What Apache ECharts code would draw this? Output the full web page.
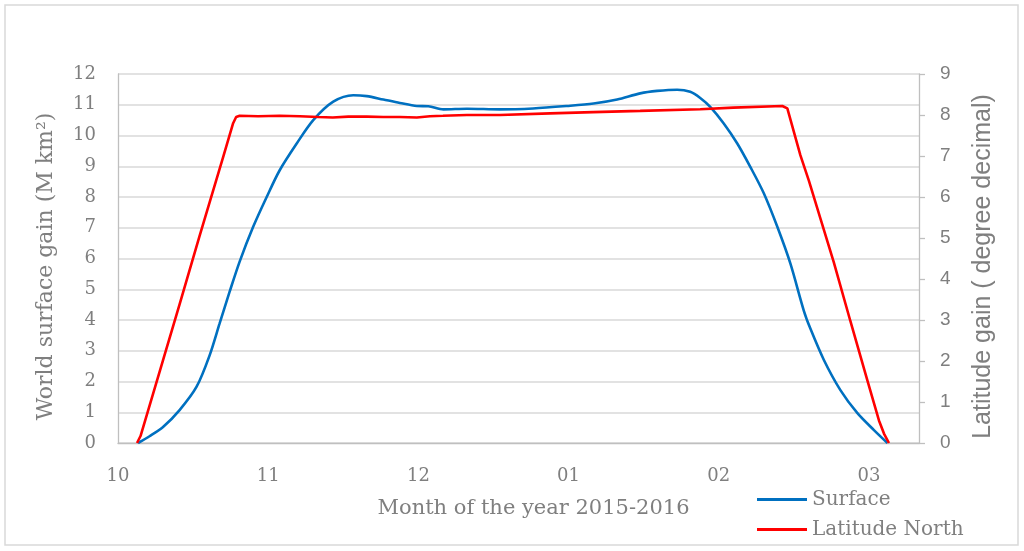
<!DOCTYPE html>
<html>
<head>
<meta charset="utf-8">
<script src="https://cdn.jsdelivr.net/npm/echarts@6/dist/echarts.min.js"></script>
<style>
html,body{margin:0;padding:0;background:#fff;}
#chart{width:1024px;height:551px;}
</style>
</head>
<body>
<div id="chart"></div>
<script>
// x values: days counted from the "10" month label (30 days per month label)
const monthLabels = ['10', '11', '12', '01', '02', '03'];
const monthTickDays = [0, 30, 60, 90, 120, 150];

const surfaceDays = [4.0, 6.3, 9.0, 12.3, 15.7, 18.3, 20.3, 22.3, 24.3, 27.0, 29.7, 32.3, 35.7, 39.0, 43.0, 47.0, 49.7, 53.0, 56.3, 59.7, 62.0, 65.0, 69.7, 76.3, 82.9, 89.7, 95.0, 99.7, 104.3, 107.7, 111.7, 114.3, 116.3, 118.3, 121.0, 123.7, 126.3, 129.0, 131.7, 134.3, 137.0, 138.3, 141.0, 144.3, 147.7, 151.0, 153.7];
const surfaceValues = [0, 0.22, 0.52, 1.07, 1.83, 2.85, 3.89, 4.92, 5.9, 7.03, 8.0, 8.87, 9.74, 10.5, 11.1, 11.31, 11.28, 11.17, 11.06, 10.96, 10.95, 10.85, 10.87, 10.85, 10.88, 10.96, 11.04, 11.17, 11.37, 11.45, 11.49, 11.42, 11.22, 10.93, 10.39, 9.74, 8.98, 8.12, 7.03, 5.84, 4.3, 3.72, 2.7, 1.72, 0.97, 0.42, 0];

const latitudeDays = [3.8, 4.5, 9.0, 12.3, 16.3, 21.0, 23.0, 23.6, 24.3, 28.0, 32.3, 36.3, 40.0, 42.9, 46.0, 49.7, 53.0, 56.3, 59.7, 62.3, 64.9, 69.7, 76.3, 86.3, 94.9, 104.3, 116.3, 122.9, 132.7, 133.7, 136.3, 138.0, 140.3, 143.0, 146.3, 149.7, 152.0, 153.0, 154.0];
const latitudeValues = [0, 0.17, 2.02, 3.38, 5.05, 6.97, 7.8, 7.95, 7.98, 7.97, 7.98, 7.97, 7.95, 7.94, 7.96, 7.96, 7.95, 7.95, 7.94, 7.97, 7.98, 8.0, 8.0, 8.04, 8.07, 8.1, 8.14, 8.18, 8.22, 8.16, 7.02, 6.4, 5.48, 4.4, 2.97, 1.52, 0.55, 0.23, 0];

const leftTitle = 'World surface gain (M km²)';
const rightTitle = 'Latitude gain ( degree decimal)';
const xTitle = 'Month of the year 2015-2016';

const zip = (xs, ys) => xs.map((x, i) => [x, ys[i]]);

const serif = '"DejaVu Serif", "Liberation Serif", serif';
const sans = '"Liberation Sans", "Open Sans", sans-serif';
const gray = '#7f7f7f';

const chart = echarts.init(document.getElementById('chart'), null, {renderer: 'canvas'});
chart.setOption({
  backgroundColor: '#ffffff',
  animation: false,
  graphic: [{
    type: 'rect',
    shape: {x: 5, y: 5, width: 1013, height: 540},
    style: {fill: 'none', stroke: '#d9d9d9', lineWidth: 1.5},
    silent: true
  }],
  grid: {left: 118, right: 105, top: 74, bottom: 108, containLabel: false},
  legend: {
    orient: 'vertical',
    left: 752,
    top: 484,
    icon: 'rect',
    itemWidth: 50,
    itemHeight: 3,
    itemGap: 9,
    textStyle: {fontFamily: serif, fontSize: 20, color: gray, lineHeight: 21},
    data: ['Surface', 'Latitude North']
  },
  xAxis: {
    type: 'value',
    min: 0,
    max: 160,
    interval: 30,
    name: xTitle,
    nameLocation: 'middle',
    nameGap: 55,
    nameTextStyle: {fontFamily: serif, fontSize: 21, color: gray, padding: [0, 0, 0, 30]},
    axisLine: {show: true, lineStyle: {color: '#bfbfbf', width: 1.3}},
    axisTick: {show: false},
    splitLine: {show: false},
    axisLabel: {
      margin: 24,
      fontFamily: serif,
      fontSize: 18,
      color: gray,
      showMaxLabel: false,
      formatter: function (v) {
        const i = monthTickDays.indexOf(v);
        return i >= 0 ? monthLabels[i] : '';
      }
    }
  },
  yAxis: [{
    type: 'value',
    min: 0,
    max: 12,
    interval: 1,
    position: 'left',
    name: leftTitle,
    nameLocation: 'middle',
    nameRotate: 90,
    nameGap: 61,
    nameTextStyle: {fontFamily: serif, fontSize: 22, color: gray, padding: [0, 16, 0, 0]},
    axisLine: {show: true, lineStyle: {color: '#bfbfbf', width: 1.3}},
    axisTick: {show: false},
    splitLine: {show: true, lineStyle: {color: '#d9d9d9', width: 1.5}},
    axisLabel: {margin: 22, fontFamily: serif, fontSize: 18, color: gray}
  }, {
    type: 'value',
    min: 0,
    max: 9,
    interval: 1,
    position: 'right',
    name: rightTitle,
    nameLocation: 'middle',
    nameRotate: 90,
    nameGap: 52,
    nameTextStyle: {fontFamily: sans, fontSize: 25, color: gray, padding: [0, 16, 0, 0]},
    axisLine: {show: true, lineStyle: {color: '#bfbfbf', width: 1.3}},
    axisTick: {show: true, inside: false, length: 6, lineStyle: {color: '#bfbfbf', width: 1.3}},
    splitLine: {show: false},
    axisLabel: {margin: 21, fontFamily: sans, fontSize: 19, color: gray}
  }],
  series: [{
    name: 'Surface',
    type: 'line',
    yAxisIndex: 0,
    data: zip(surfaceDays, surfaceValues),
    smooth: 0.3,
    showSymbol: false,
    symbol: 'none',
    lineStyle: {color: '#0070c0', width: 2.6},
    itemStyle: {color: '#0070c0'}
  }, {
    name: 'Latitude North',
    type: 'line',
    yAxisIndex: 1,
    data: zip(latitudeDays, latitudeValues),
    smooth: false,
    showSymbol: false,
    symbol: 'none',
    lineStyle: {color: '#ff0000', width: 2.6},
    itemStyle: {color: '#ff0000'}
  }]
});
</script>
</body>
</html>
